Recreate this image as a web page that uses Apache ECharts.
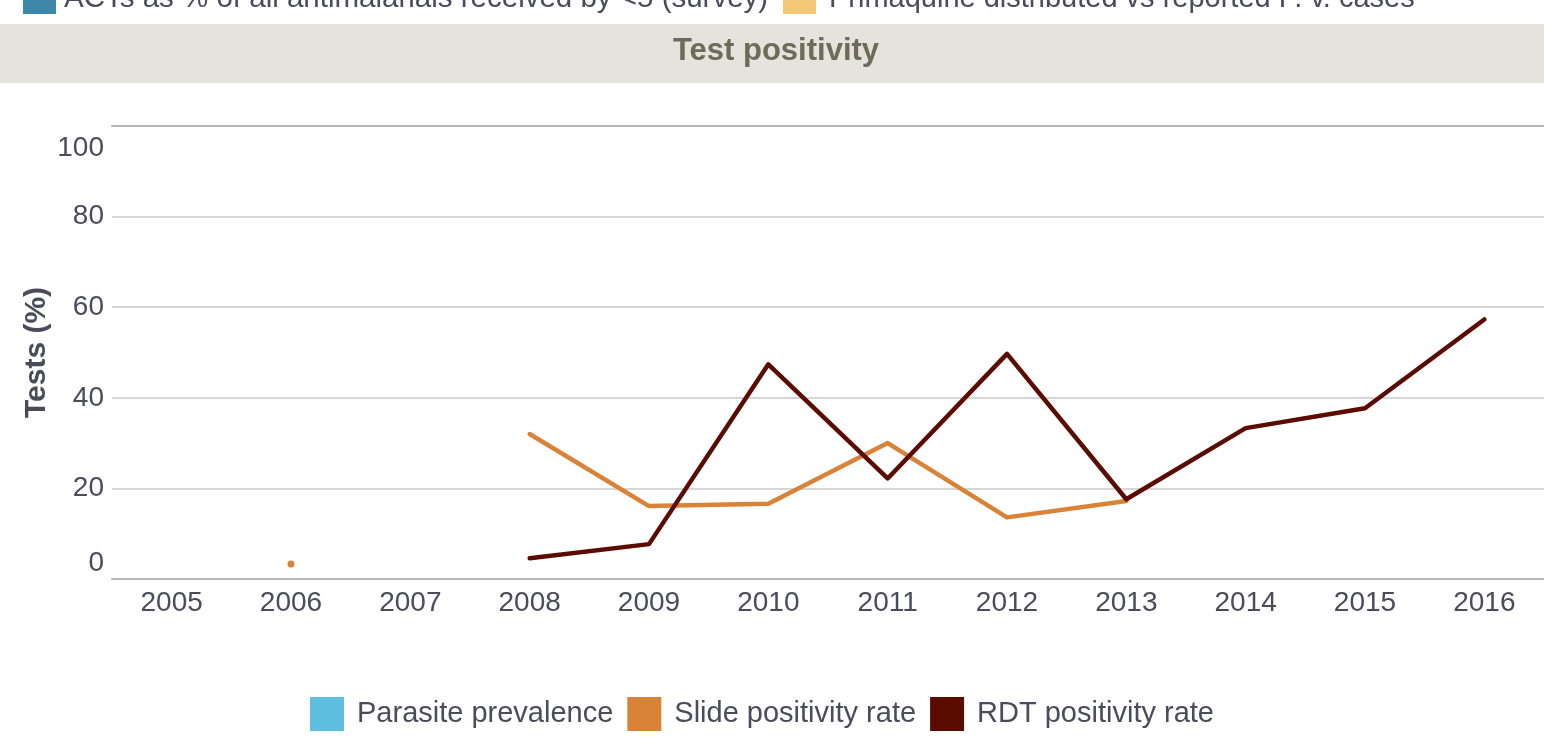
<!DOCTYPE html>
<html>
<head>
<meta charset="utf-8">
<script src="https://cdn.jsdelivr.net/npm/echarts@6/dist/echarts.min.js"></script>
<style>
html,body{margin:0;padding:0;background:#fff;}
#chart{width:1544px;height:743px;}
</style>
</head>
<body>
<div id="chart"></div>
<script>
const years = ['2005','2006','2007','2008','2009','2010','2011','2012','2013','2014','2015','2016'];
const yTicks = [0, 20, 40, 60, 80, 100];
const parasitePrevalence = [null,null,null,null,null,null,null,null,null,null,null,null];
const slidePositivity = [null, 3.3, null, 32.0, 16.1, 16.6, 30.0, 13.6, 17.2, null, null, null];
const rdtPositivity = [null, null, null, 4.6, 7.7, 47.4, 22.2, 49.7, 17.6, 33.3, 37.7, 57.3];
const seriesNames = ['Parasite prevalence', 'Slide positivity rate', 'RDT positivity rate'];
const topLegendNames = ['ACTs as % of all antimalarials received by <5 (survey)', 'Primaquine distributed vs reported P. v. cases'];
const chartTitle = 'Test positivity';
const yAxisName = 'Tests (%)';

const FONT = "'Liberation Sans', Arial, Helvetica, sans-serif";
const TXT = '#4b4b5a';
const colors = ['#5fbfe0', '#d98338', '#5c0b00'];

// mark isolated points so they get a visible dot
function withIsolated(arr){
  return arr.map((v,i)=>{
    if (v === null) return null;
    const prev = i>0 ? arr[i-1] : null;
    const next = i<arr.length-1 ? arr[i+1] : null;
    if (prev === null && next === null) return {value: v, symbol: 'circle', symbolSize: 7};
    return v;
  });
}

const chart = echarts.init(document.getElementById('chart'), null, {renderer: 'canvas'});
chart.setOption({
  animation: false,
  backgroundColor: '#ffffff',
  textStyle: {fontFamily: FONT},
  graphic: [
    {type: 'rect', shape: {x: 0, y: 24, width: 1544, height: 59}, style: {fill: '#e4e3de'}, silent: true},
    {type: 'text', style: {text: chartTitle, x: 776, y: 51, align: 'center', verticalAlign: 'middle',
      font: "bold 31px " + FONT, fill: '#6f6b58'}},
    {type: 'rect', shape: {x: 23, y: 0, width: 33, height: 14}, style: {fill: '#3d88a8'}},
    {type: 'text', style: {text: topLegendNames[0], x: 64, y: -1, align: 'left', verticalAlign: 'middle',
      font: "29.5px " + FONT, fill: TXT}},
    {type: 'rect', shape: {x: 783, y: 0, width: 33, height: 14}, style: {fill: '#f5c878'}},
    {type: 'text', style: {text: topLegendNames[1], x: 829, y: -1, align: 'left', verticalAlign: 'middle',
      font: "29px " + FONT, fill: TXT}}
  ],
  grid: {left: 112, right: 0, top: 126, bottom: 164, containLabel: false},
  legend: {
    data: seriesNames,
    top: 692,
    left: 305,
    icon: 'rect',
    itemWidth: 34,
    itemHeight: 34,
    itemGap: 14,
    selectedMode: false,
    textStyle: {fontSize: 29, color: TXT, fontFamily: FONT, padding: [0,0,0,8]}
  },
  xAxis: [{
    type: 'category',
    data: years,
    boundaryGap: true,
    axisLine: {show: true, lineStyle: {color: '#b5b5b5', width: 2}},
    axisTick: {show: false},
    axisLabel: {fontSize: 28, color: TXT, margin: 10, fontFamily: FONT, interval: 0}
  },{
    type: 'category',
    data: years,
    position: 'top',
    axisLine: {show: true, lineStyle: {color: '#b5b5b5', width: 2}},
    axisTick: {show: false},
    axisLabel: {show: false}
  }],
  yAxis: {
    type: 'value',
    min: yTicks[0],
    max: yTicks[yTicks.length-1],
    interval: yTicks[1]-yTicks[0],
    name: yAxisName,
    nameLocation: 'middle',
    nameGap: 60,
    nameMoveOverlap: false,
    nameTextStyle: {fontSize: 30, fontWeight: 'bold', color: TXT, fontFamily: FONT},
    axisLine: {show: false},
    axisTick: {show: false},
    splitLine: {lineStyle: {color: '#d6d6d6', width: 2}},
    axisLabel: {
      fontSize: 28, color: TXT, margin: 8, fontFamily: FONT,
      formatter: function(v){
        if (v === yTicks[yTicks.length-1]) return '{t|' + v + '}';
        if (v === yTicks[0]) return '{b|' + v + '}';
        return String(v);
      },
      rich: {
        t: {fontSize: 28, color: TXT, fontFamily: FONT, padding: [44,0,0,0]},
        b: {fontSize: 28, color: TXT, fontFamily: FONT, padding: [0,0,32,0]}
      }
    }
  },
  series: [
    {name: seriesNames[0], type: 'line', data: parasitePrevalence, color: colors[0],
      symbol: 'none', lineStyle: {width: 4.5}},
    {name: seriesNames[1], type: 'line', data: withIsolated(slidePositivity), color: colors[1],
      symbol: 'none', showSymbol: true, lineStyle: {width: 4.5, color: colors[1], cap: 'round', join: 'round'}, itemStyle: {color: colors[1]}},
    {name: seriesNames[2], type: 'line', data: withIsolated(rdtPositivity), color: colors[2],
      symbol: 'none', showSymbol: true, lineStyle: {width: 4.5, color: colors[2], cap: 'round', join: 'round'}, itemStyle: {color: colors[2]}}
  ]
});
</script>
</body>
</html>
